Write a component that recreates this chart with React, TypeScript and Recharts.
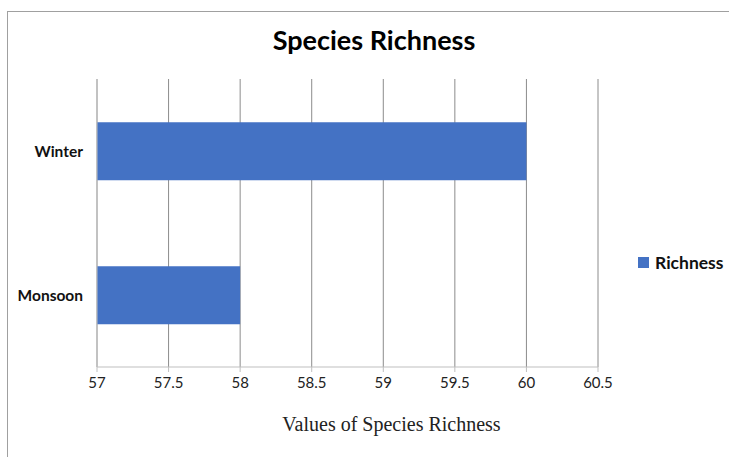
import { BarChart, Bar, XAxis, YAxis, CartesianGrid } from 'recharts'

const seasons = ['Winter', 'Monsoon']
const richness = [60, 58]
const xTicks = [57, 57.5, 58, 58.5, 59, 59.5, 60, 60.5]

const data = seasons.map((season, i) => ({ season, Richness: richness[i] }))

const BLUE = '#4472C4'
const SANS = 'Lato, "Open Sans", sans-serif'

export default function App() {
  return (
    <div style={{ position: 'absolute', left: 0, top: 0, width: 729, height: 457, background: '#fff', overflow: 'hidden' }}>
      <div style={{ position: 'absolute', left: 7, top: 11, width: 740, height: 470, border: '1px solid #a0a0a0' }} />
      <div
        style={{
          position: 'absolute',
          left: 0,
          top: 23,
          width: 748,
          textAlign: 'center',
          fontFamily: SANS,
          fontWeight: 700,
          fontSize: 27,
          color: '#000',
        }}
      >
        Species Richness
      </div>
      {/* legend drawn by hand so it doesn't eat the plot width */}
      <div
        style={{
          position: 'absolute',
          left: 638,
          top: 252,
          display: 'flex',
          alignItems: 'center',
          fontFamily: SANS,
          fontWeight: 700,
          fontSize: 17.5,
          color: '#111',
        }}
      >
        <span style={{ width: 11, height: 11, background: BLUE, display: 'inline-block', marginRight: 6 }} />
        Richness
      </div>
      <BarChart
        width={729}
        height={457}
        data={data}
        layout="vertical"
        barCategoryGap="30%"
        margin={{ top: 79, right: 131, bottom: 60, left: 7 }}
        style={{ position: 'absolute', left: 0, top: 0 }}
      >
        <CartesianGrid horizontal={false} stroke="#8c8c8c" />
        <XAxis
          type="number"
          domain={[57, 60.5]}
          ticks={xTicks}
          allowDataOverflow
          height={30}
          tickSize={5}
          tickMargin={5}
          stroke="#bfbfbf"
          tick={{ fontFamily: SANS, fontSize: 15, fill: '#222' }}
          label={{
            value: 'Values of Species Richness',
            position: 'bottom',
            offset: 20,
            dx: 44,
            style: { fontFamily: '"Liberation Serif", serif', fontSize: 20, fill: '#222' },
          }}
        />
        <YAxis
          type="category"
          dataKey="season"
          width={90}
          tickLine={false}
          stroke="#bfbfbf"
          tickMargin={8}
          tick={{ fontFamily: SANS, fontSize: 15.5, fontWeight: 700, fill: '#111' }}
        />
        <Bar dataKey="Richness" fill={BLUE} isAnimationActive={false} />
      </BarChart>
    </div>
  )
}
